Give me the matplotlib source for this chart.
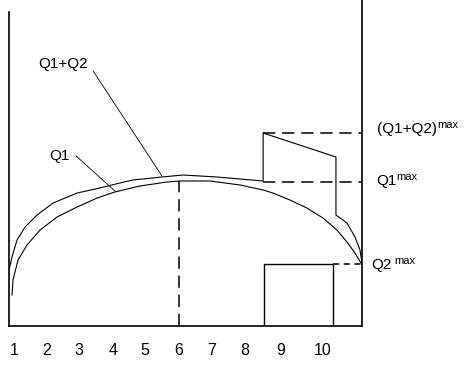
import matplotlib.pyplot as plt

plt.rcParams['font.family'] = ['Liberation Sans', 'DejaVu Sans']

# positions along the axis (tick units) and heights (arbitrary units, 0 = base line)
tick_pos = [1, 1.99, 2.95, 3.96, 4.93, 5.94, 6.93, 7.92, 9.0, 10.25]
tick_labels = ['1', '2', '3', '4', '5', '6', '7', '8', '9', '10']

# Q1 curve
q1_x = [0.94, 0.97, 1.12, 1.39, 1.78, 2.29, 2.89, 3.49, 4.02, 4.77, 5.58, 5.97,
        6.87, 7.77, 8.46, 8.75, 9.26, 9.77, 10.25, 10.67, 10.97, 11.21, 11.39]
q1_y = [31, 46, 66, 81, 96, 109, 119, 128, 134, 140, 144, 145,
        145, 141, 136, 133, 126, 118, 108, 96, 84, 73, 63]

# Q1+Q2 curve
q12_x = [0.85, 0.94, 1.09, 1.33, 1.69, 2.17, 2.89, 3.57, 4.17, 4.56, 5.43, 6.06,
         7.08, 7.77, 8.46, 8.46, 10.64, 10.64, 10.97, 11.21, 11.36, 11.42]
q12_y = [56, 69, 86, 99, 111, 123, 133, 138, 143, 146, 149, 151,
         149, 147, 145, 193, 169, 111, 103, 89, 76, 63]

q1_max = 145
q12_max = 193
q2_max = 62
peak_x = 5.95
step_x = 8.46
rect_x = [8.49, 8.49, 10.55, 10.55]
rect_y = [0, q2_max, q2_max, 0]

x_left, x_right = 0.85, 11.42

fig = plt.figure(figsize=(4.66, 3.65), dpi=100)
ax = fig.add_axes([9 / 466, 39 / 365, 353 / 466, 326 / 365])
ax.set_xlim(x_left, x_right)
ax.set_ylim(0, 326)

for s in ['left', 'bottom', 'right']:
    ax.spines[s].set_linewidth(1.2)
ax.spines['top'].set_visible(False)
ax.spines['left'].set_bounds(0, 314)
ax.set_yticks([])
ax.set_xticks(tick_pos)
ax.set_xticklabels(tick_labels, fontsize=11.5)
ax.tick_params(axis='x', length=0, pad=12)

# curves
ax.plot(q1_x, q1_y, color='black', lw=0.8)
ax.plot(q12_x, q12_y, color='black', lw=0.8)
ax.plot(rect_x, rect_y, color='black', lw=1.0)

# dashed guide lines
dash = dict(color='black', lw=1.1, dashes=(8, 4.5))
ax.plot([peak_x, peak_x], [0, q1_max], **dash)
ax.plot([step_x, x_right], [q12_max, q12_max], **dash)
ax.plot([step_x, x_right], [q1_max - 1, q1_max - 1], **dash)
ax.plot([rect_x[2], x_right], [q2_max, q2_max], color='black', lw=1.1, dashes=(4, 3))

# leader lines and labels
ax.plot([3.37, 5.43], [255, 150], color='black', lw=0.6)
ax.plot([2.86, 4.02], [170, 135], color='black', lw=0.6)
ax.text(2.47, 258, 'Q1+Q2', fontsize=11, ha='center', va='baseline')
ax.text(2.35, 166, 'Q1', fontsize=11, ha='center', va='baseline')


def label_max(x, y, main, gap=0):
    t = ax.text(x, y, main, fontsize=11, va='baseline', clip_on=False)
    ax.annotate('max', xy=(1, 1), xycoords=t, xytext=(gap, 1.5),
                textcoords='offset points', fontsize=8, va='top', ha='left')


label_max(11.87, 193, '(Q1+Q2)')
label_max(11.84, 141, 'Q1')
label_max(11.69, 57, 'Q2', gap=2)

fig.savefig('out.png', dpi=100)
